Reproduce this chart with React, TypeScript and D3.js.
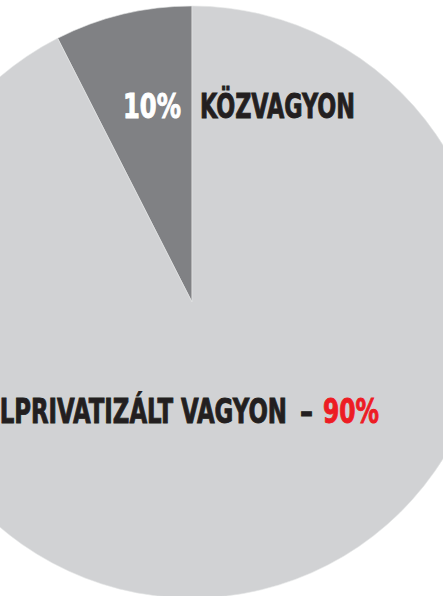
import React, { useLayoutEffect, useRef, useState } from "react";
import * as d3 from "d3";

// Values (share of the full circle)
const categories = ["KÖZVAGYON", "ELPRIVATIZÁLT VAGYON"];
const shares = [7.5, 92.5];
const shareLabels = ["10%", "90%"];
const colors = ["#808184", "#d1d2d4"];

const W = 443;
const H = 596;
const FONT = "'Liberation Sans Narrow', 'DejaVu Sans Condensed', sans-serif";

function FitText({
  x,
  y,
  width,
  fill,
  anchor = "start",
  children,
}: {
  x: number;
  y: number;
  width: number;
  fill: string;
  anchor?: "start" | "end";
  children: React.ReactNode;
}) {
  const ref = useRef<SVGTextElement>(null);
  const [sx, setSx] = useState(1);
  useLayoutEffect(() => {
    if (ref.current) {
      const w = ref.current.getComputedTextLength();
      if (w > 0) setSx(width / w);
    }
  }, [width]);
  return (
    <text
      ref={ref}
      transform={`translate(${x},${y}) scale(${sx},1)`}
      fill={fill}
      stroke={fill}
      strokeWidth={0.9}
      textAnchor={anchor}
      fontFamily={FONT}
      fontWeight="bold"
      fontSize={34}
    >
      {children}
    </text>
  );
}

export default function App() {
  const cx = 192;
  const cy = 302;
  const r = 296;
  const total = d3.sum(shares);
  const start = -(shares[0] / total) * 2 * Math.PI;
  const pie = d3
    .pie<number>()
    .sort(null)
    .value((d) => d)
    .startAngle(start)
    .endAngle(start + 2 * Math.PI);
  const arcs = pie(shares);
  const arc = d3.arc<d3.PieArcDatum<number>>().innerRadius(0).outerRadius(r);

  return (
    <svg
      width={W}
      height={H}
      style={{ position: "absolute", left: 0, top: 0, display: "block", background: "#fff" }}
    >
      <g transform={`translate(${cx},${cy})`}>
        {arcs.map((a, i) => (
          <path key={i} d={arc(a) || ""} fill={colors[i]} stroke="#e4e5e6" strokeWidth={0.6} />
        ))}
      </g>
      <FitText x={123} y={118} width={58} fill="#ffffff">
        {shareLabels[0]}
      </FitText>
      <FitText x={200} y={118} width={155} fill="#231f20">
        {categories[0]}
      </FitText>
      <FitText x={287} y={423} width={303} fill="#231f20" anchor="end">
        {categories[1]}
      </FitText>
      <FitText x={300} y={423} width={13} fill="#231f20">
        –
      </FitText>
      <FitText x={323} y={423} width={56} fill="#ed1c24">
        {shareLabels[1]}
      </FitText>
    </svg>
  );
}
